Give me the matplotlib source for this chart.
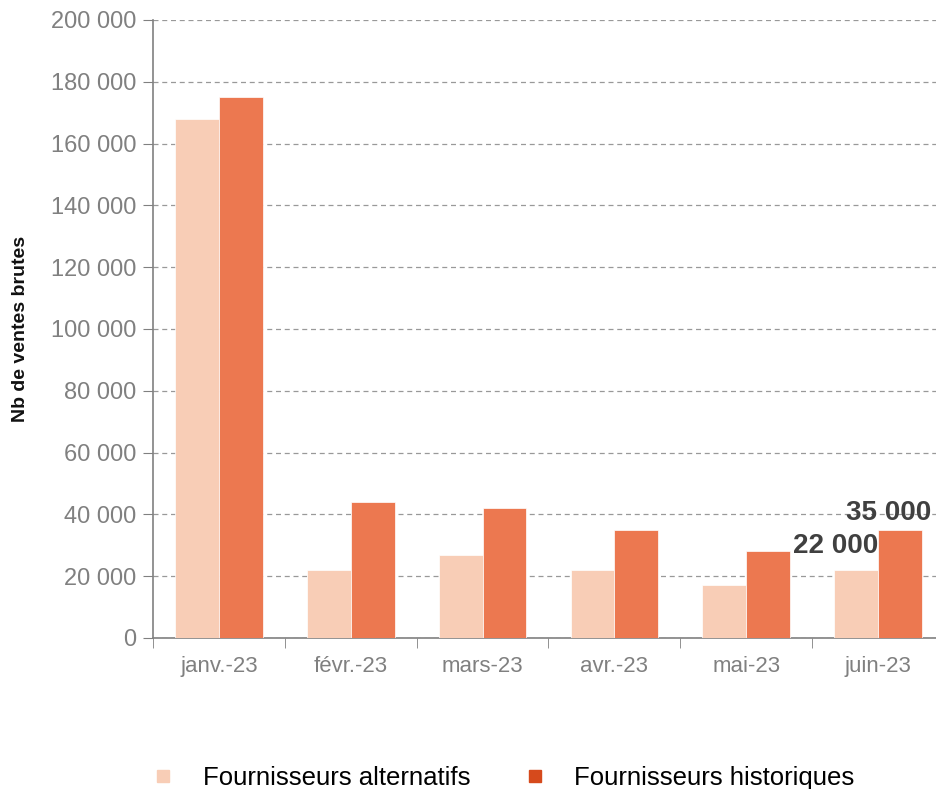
import matplotlib
matplotlib.use("Agg")
import matplotlib.pyplot as plt
from matplotlib.lines import Line2D
import numpy as np

months = ["janv.-23", "févr.-23", "mars-23", "avr.-23", "mai-23", "juin-23"]
alternatifs = [168000, 22000, 27000, 22000, 17000, 22000]
historiques = [175000, 44000, 42000, 35000, 28000, 35000]
series_names = ["Fournisseurs alternatifs", "Fournisseurs historiques"]

c_alt = "#F8CDB6"
c_hist = "#EC7850"
c_hist_leg = "#D64A1C"
grey = "#808080"

plt.rcParams["font.family"] = ["Liberation Sans", "DejaVu Sans"]

fig = plt.figure(figsize=(9.36, 7.89), dpi=100)
ax = fig.add_axes([153 / 936, 151 / 789, 791 / 936, 618 / 789])

x = np.arange(len(months))
w = 0.333
ax.bar(x - w / 2, alternatifs, w, color=c_alt, edgecolor="white", linewidth=0.5, zorder=3)
ax.bar(x + w / 2, historiques, w, color=c_hist, edgecolor="white", linewidth=0.5, zorder=3)

ax.set_xlim(-0.5, len(months) - 0.5)
ax.set_ylim(0, 200000)
ax.set_yticks(np.arange(0, 200001, 20000))
ax.set_yticklabels([f"{v:,}".replace(",", " ") for v in range(0, 200001, 20000)])
ax.yaxis.grid(True, linestyle=(0, (4, 3)), color="#999999", linewidth=0.9, zorder=0)

ax.set_xticks(x)
ax.set_xticklabels(months)
ax.set_xticks(np.arange(-0.5, len(months)), minor=True)
ax.tick_params(axis="x", which="major", length=0, pad=13, labelsize=16, labelcolor=grey)
ax.tick_params(axis="x", which="minor", length=7, color=grey, direction="out")
ax.tick_params(axis="y", length=7, color=grey, labelsize=17, labelcolor=grey, pad=5)

for s in ["top", "right"]:
    ax.spines[s].set_visible(False)
for s in ["left", "bottom"]:
    ax.spines[s].set_color(grey)
    ax.spines[s].set_linewidth(1.2)

ax.set_ylabel("Nb de ventes brutes", fontsize=14, fontweight="bold",
              family=["Liberation Sans Narrow", "Liberation Sans", "DejaVu Sans"],
              color="#111111", labelpad=16)

# annotations on juin-23
ax.annotate(f"{alternatifs[-1]:,}".replace(",", " "), (x[-1], alternatifs[-1]),
            xytext=(0, 8), textcoords="offset points", ha="right", va="bottom",
            fontsize=20, fontweight="bold", color="#404040", zorder=5)
ax.annotate(f"{historiques[-1]:,}".replace(",", " "), (x[-1] + w / 2, historiques[-1]),
            xytext=(-8, 3), textcoords="offset points", ha="center", va="bottom",
            fontsize=20, fontweight="bold", color="#404040", zorder=5)

handles = [Line2D([], [], marker="s", linestyle="none", markersize=9, color=c_alt),
           Line2D([], [], marker="s", linestyle="none", markersize=9, color=c_hist_leg)]
fig.legend(handles, series_names, loc="center", bbox_to_anchor=(0.530, 0.014),
           ncol=2, frameon=False, handletextpad=0.55, columnspacing=1.5,
           prop={"family": ["Liberation Sans Narrow", "Liberation Sans", "DejaVu Sans"], "size": 18.5})

fig.savefig("out.png", dpi=100)
